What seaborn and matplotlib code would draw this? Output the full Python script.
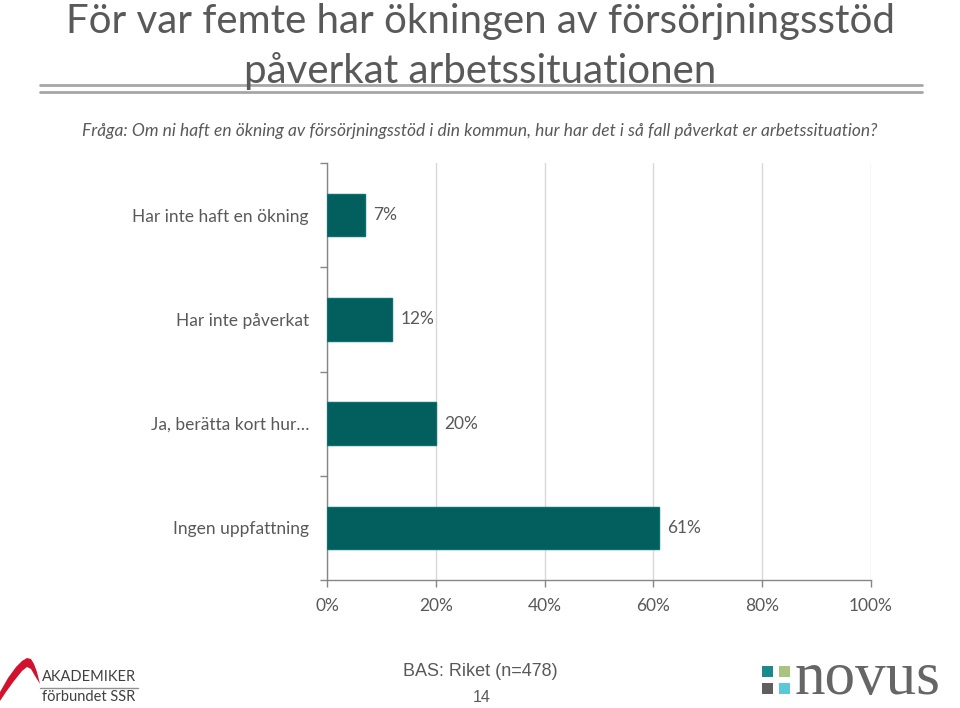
import matplotlib
matplotlib.use('Agg')
import matplotlib.pyplot as plt
import seaborn as sns
from matplotlib.patches import Polygon, Rectangle
from matplotlib.lines import Line2D

# data
categories = ['Har inte haft en ökning', 'Har inte påverkat', 'Ja, berätta kort hur…', 'Ingen uppfattning']
shares = [7, 12, 20, 61]
value_labels = ['7%', '12%', '20%', '61%']
x_ticks = [0, 20, 40, 60, 80, 100]
x_tick_labels = ['0%', '20%', '40%', '60%', '80%', '100%']

title_lines = ['För var femte har ökningen av försörjningsstöd', 'påverkat arbetssituationen']
question = 'Fråga: Om ni haft en ökning av försörjningsstöd i din kommun, hur har det i så fall påverkat er arbetssituation?'
base_text = 'BAS: Riket (n=478)'
page_no = '14'

GREY = '#595959'
BAR = '#035E5E'

sns.set_style('white')
plt.rcParams['font.family'] = ['Lato', 'DejaVu Sans']

W, H = 960, 708
fig = plt.figure(figsize=(9.6, 7.08), dpi=100)


def fx(px):
   return px / W


def fy(py):
   return 1 - py / H


# title block
fig.text(0.5, fy(21), title_lines[0], ha='center', va='center', fontsize=29, color=GREY)
fig.text(0.5, fy(71), title_lines[1], ha='center', va='center', fontsize=29, color=GREY)
for y in (85, 92):
   fig.add_artist(Line2D([fx(40), fx(922)], [fy(y), fy(y)], color='#A6A6A6', lw=2))
fig.text(0.5, fy(131), question, ha='center', va='center', fontsize=12.5, color=GREY, style='italic')

# chart
ax = fig.add_axes([fx(327), fy(580), fx(871) - fx(327), fy(163) - fy(580)])
sns.barplot(x=shares, y=categories, orient='h', color=BAR, saturation=1, width=0.41,
            edgecolor='#0D7070', linewidth=1, ax=ax, zorder=3)
ax.bar_label(ax.containers[0], labels=value_labels, padding=6, fontsize=12.5, color=GREY)

ax.set_xlim(0, 100)
ax.set_ylim(len(categories) - 0.5, -0.5)
ax.set_xticks(x_ticks)
ax.set_xticklabels(x_tick_labels)
ax.set_yticks(range(len(categories)), minor=False)
ax.set_yticks([i - 0.5 for i in range(len(categories) + 1)], minor=True)
ax.set_xlabel('')
ax.set_ylabel('')

ax.grid(axis='x', color='#D9D9D9', lw=1, zorder=0)
ax.grid(axis='y', visible=False)
for side in ('top', 'right'):
   ax.spines[side].set_visible(False)
for side in ('left', 'bottom'):
   ax.spines[side].set_color('#868686')
   ax.spines[side].set_linewidth(1)

ax.tick_params(axis='x', which='major', length=5, width=1, color='#868686', labelsize=12.5,
               labelcolor=GREY, pad=8, direction='out', bottom=True)
ax.tick_params(axis='y', which='major', length=0, pad=13, labelsize=12.5, labelcolor=GREY)
ax.tick_params(axis='y', which='minor', length=5, width=1, color='#868686', left=True)

# footer
fig.text(fx(480), fy(672), base_text, ha='center', va='center', fontsize=13, color=GREY,
         family=['Liberation Sans', 'DejaVu Sans'])
fig.text(fx(482), fy(698), page_no, ha='center', va='center', fontsize=11.5, color=GREY,
         family=['Liberation Sans', 'DejaVu Sans'])

# Akademikerförbundet SSR logo (rough)
swoosh_px = [(0, 692), (8, 678), (16, 667), (22, 661), (27, 658), (31, 659), (34, 664), (37, 672),
             (40, 684), (35, 676), (31, 669), (27, 667), (22, 671), (14, 681), (6, 692), (0, 701)]
fig.add_artist(Polygon([(fx(x), fy(y)) for x, y in swoosh_px], closed=True,
                       facecolor='#D0122F', edgecolor='none'))
fig.text(fx(42), fy(677), 'AKADEMIKER', ha='left', va='center', fontsize=10.5, color='#404040')
fig.add_artist(Line2D([fx(40), fx(138)], [fy(688), fy(688)], color='#909090', lw=1))
fig.text(fx(42), fy(697), 'förbundet SSR', ha='left', va='center', fontsize=10.5, color='#404040')

# Novus logo (rough)
squares = [((762, 666), '#1A8A8C'), ((779, 666), '#A9C47F'), ((762, 683), '#5F5F5F'), ((779, 683), '#5CC7D6')]
for (x, y), c in squares:
   fig.add_artist(Rectangle((fx(x), fy(y + 11)), fx(11), 11 / H, facecolor=c, edgecolor='none'))
fig.text(fx(795), fy(694), 'novus', ha='left', va='baseline', fontsize=44, color='#666666',
         family=['Liberation Serif', 'DejaVu Serif'])

fig.savefig('out.png', dpi=100)
